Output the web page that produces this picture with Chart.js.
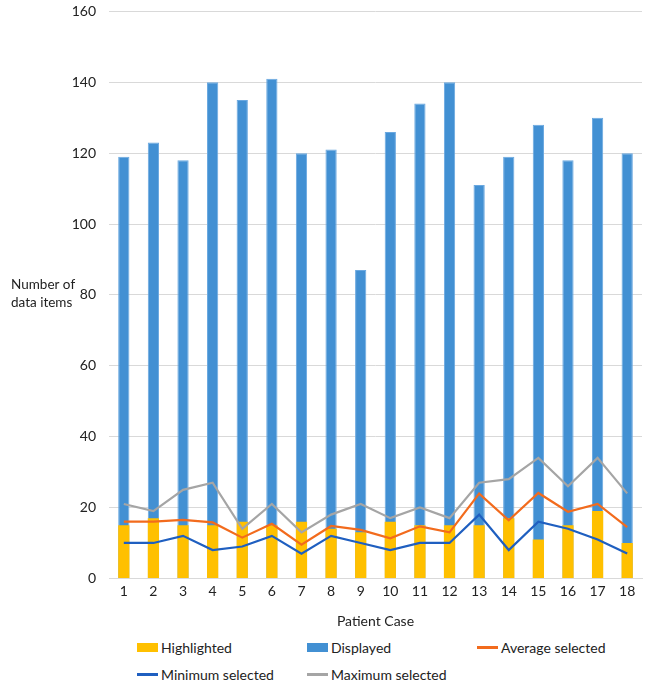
<!DOCTYPE html>
<html>
<head>
<meta charset="utf-8">
<script src="https://cdn.jsdelivr.net/npm/chart.js@4.4.0/dist/chart.umd.min.js"></script>
<style>
    html, body { margin: 0; padding: 0; background: #fff; }
    #wrap { position: relative; width: 649px; height: 685px; }
    #chart { position: absolute; left: 0; top: 0; }
    #legend {
        position: absolute; left: 137px; top: 636px;
        display: grid; grid-template-columns: 170px 170px 170px; row-gap: 5px;
        font-family: Lato, "Open Sans", sans-serif; font-size: 14px; color: #222;
    }
    #legend .item { display: flex; align-items: center; height: 22px; }
    #legend .sw { display: inline-block; width: 21px; margin-right: 3px; }
</style>
</head>
<body>
<div id="wrap">
    <canvas id="chart" width="649" height="634"></canvas>
    <div id="legend"></div>
</div>
<script>
const patientCases = ["1", "2", "3", "4", "5", "6", "7", "8", "9", "10", "11", "12", "13", "14", "15", "16", "17", "18"];
const highlighted = [15, 17, 15, 15, 16, 15, 16, 14, 13, 16, 15, 15, 15, 17, 11, 15, 19, 10];
const displayed = [119, 123, 118, 140, 135, 141, 120, 121, 87, 126, 134, 140, 111, 119, 128, 118, 130, 120];
const averageSelected = [16, 16, 16.5, 15.8, 11.5, 15.4, 9.5, 14.8, 13.7, 11.3, 14.7, 13, 23.9, 16.4, 24.1, 18.8, 21, 14.5];
const minimumSelected = [10, 10, 12, 8, 9, 12, 7, 12, 10, 8, 10, 10, 18, 8, 16, 14, 11, 7];
const maximumSelected = [21, 19, 25, 27, 14, 21, 13, 18, 21, 17, 20, 17, 27, 28, 34, 26, 34, 24];
const yTicks = [0, 20, 40, 60, 80, 100, 120, 140, 160];

const font = "Lato, 'Open Sans', sans-serif";

// y axis title is horizontal in the original, so draw it by hand
const yTitlePlugin = {
    id: "yTitle",
    afterDraw(chart) {
        const ctx = chart.ctx;
        ctx.save();
        ctx.font = "13.5px " + font;
        ctx.fillStyle = "#222";
        ctx.textBaseline = "middle";
        ctx.fillText("Number of", 11, 285);
        ctx.fillText("data items", 11, 303);
        ctx.restore();
    }
};

const chart = new Chart(document.getElementById("chart").getContext("2d"), {
    type: "bar",
    data: {
        labels: patientCases,
        datasets: [
            { label: "Highlighted", data: highlighted, backgroundColor: "#FFC000", order: 1,
              barPercentage: 0.38, categoryPercentage: 1 },
            { label: "Displayed", data: displayed, backgroundColor: "#4290D3", borderColor: "#6aa8e0", borderWidth: 1, order: 2,
              barPercentage: 0.38, categoryPercentage: 1 },
            { type: "line", label: "Average selected", data: averageSelected, borderColor: "#F26B1D", borderWidth: 2.2,
              pointRadius: 0, tension: 0, order: 0 },
            { type: "line", label: "Minimum selected", data: minimumSelected, borderColor: "#1F5FC0", borderWidth: 2.2,
              pointRadius: 0, tension: 0, order: 0 },
            { type: "line", label: "Maximum selected", data: maximumSelected, borderColor: "#A5A5A5", borderWidth: 2.2,
              pointRadius: 0, tension: 0, order: 0 }
        ]
    },
    options: {
        responsive: false,
        animation: false,
        layout: { padding: { top: 0, right: 7, left: 0, bottom: 0 } },
        plugins: {
            legend: { display: false },
            tooltip: { enabled: false }
        },
        scales: {
            x: {
                stacked: true,
                grid: { display: false, drawTicks: false },
                border: { color: "#d9d9d9" },
                ticks: { color: "#222", font: { family: font, size: 14 }, padding: 5, maxRotation: 0 },
                title: { display: true, text: "Patient Case", color: "#222", font: { family: font, size: 14 }, padding: { top: 8 } }
            },
            y: {
                stacked: false,
                min: 0,
                max: 160,
                afterBuildTicks: scale => { scale.ticks = yTicks.map(v => ({ value: v })); },
                afterFit: scale => { scale.width = 109; },
                // invisible tick marks give the gap between labels and plot
                grid: { color: "#d9d9d9", drawTicks: true, tickLength: 10, tickColor: "rgba(0,0,0,0)" },
                border: { display: false },
                ticks: { color: "#222", font: { family: font, size: 14 }, padding: 3 }
            }
        }
    },
    plugins: [yTitlePlugin]
});

// legend as html, laid out in three fixed columns
const legendEl = document.getElementById("legend");
chart.data.datasets.forEach(ds => {
    const isLine = ds.type === "line";
    const color = isLine ? ds.borderColor : ds.backgroundColor;
    const h = isLine ? 3 : 9;
    legendEl.innerHTML += `<div class="item"><span class="sw" style="height:${h}px;background:${color}"></span>${ds.label}</div>`;
});
</script>
</body>
</html>
